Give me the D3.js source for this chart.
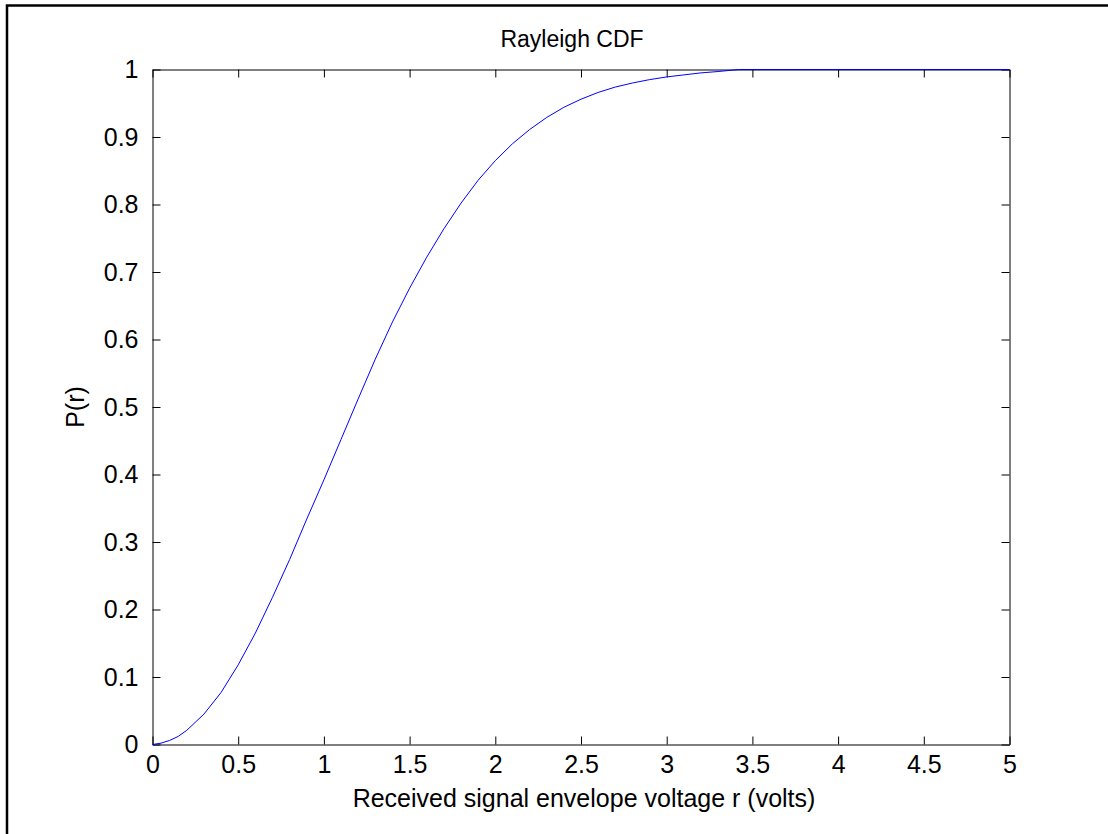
<!DOCTYPE html>
<html>
<head>
<meta charset="utf-8">
<script src="https://cdn.jsdelivr.net/npm/d3@7"></script>
<style>
  body { margin: 0; background: #fff; }
  svg text { font-family: Arial, "Liberation Sans", sans-serif; fill: #000; }
</style>
</head>
<body>
<div id="viz"></div>
<script>
var rVals = [0, 0.05, 0.1, 0.15, 0.2, 0.3, 0.4, 0.5, 0.6, 0.7, 0.8, 0.9, 1.0,
             1.1, 1.2, 1.3, 1.4, 1.5, 1.6, 1.7, 1.8, 1.9, 2.0, 2.1, 2.2, 2.3,
             2.4, 2.5, 2.6, 2.7, 2.8, 2.9, 3.0, 3.1, 3.2, 3.3, 3.42, 5];
var pVals = [0, 0.002, 0.006, 0.012, 0.021, 0.045, 0.077, 0.118, 0.165, 0.218,
             0.274, 0.334, 0.392, 0.452, 0.512, 0.571, 0.626, 0.676, 0.722,
             0.764, 0.802, 0.836, 0.865, 0.890, 0.911, 0.929, 0.944, 0.956,
             0.966, 0.974, 0.980, 0.985, 0.989, 0.992, 0.995, 0.997, 1.0, 1.0];
var xTicks = [0, 0.5, 1, 1.5, 2, 2.5, 3, 3.5, 4, 4.5, 5];
var yTicks = [0, 0.1, 0.2, 0.3, 0.4, 0.5, 0.6, 0.7, 0.8, 0.9, 1];

var width = 1108,
    height = 834,
    plotLeft = 152.5,
    plotRight = 1009.5,
    plotTop = 69.5,
    plotBottom = 744.5;

var xScale = d3.scaleLinear().domain([0, 5]).range([0, plotRight - plotLeft]);
var yScale = d3.scaleLinear().domain([0, 1]).range([plotBottom - plotTop, 0]);

var svg = d3.select('#viz').append('svg')
    .attr('width', width)
    .attr('height', height)
    .style('background', '#fff');

// outer frame (cut off at right and bottom)
svg.append('path')
    .attr('d', 'M7,834 V5.5 H1108')
    .attr('fill', 'none')
    .attr('stroke', '#000')
    .attr('stroke-width', 2.5);

var g = svg.append('g').attr('transform', 'translate(' + plotLeft + ',' + plotTop + ')');

function styleAxis(sel) {
  sel.selectAll('path, line').attr('stroke', '#000').attr('stroke-width', 1);
  sel.selectAll('text').attr('font-size', 25).attr('font-family', null);
}

g.append('g')
    .attr('transform', 'translate(0,' + (plotBottom - plotTop) + ')')
    .call(d3.axisBottom(xScale).tickValues(xTicks).tickSizeInner(-8).tickSizeOuter(0)
      .tickPadding(11).tickFormat(d3.format('')))
    .call(styleAxis);

g.append('g')
    .call(d3.axisLeft(yScale).tickValues(yTicks).tickSizeInner(-8).tickSizeOuter(0)
      .tickPadding(14).tickFormat(d3.format('')))
    .call(styleAxis);

g.append('g')
    .call(d3.axisTop(xScale).tickValues(xTicks).tickSizeInner(-8).tickSizeOuter(0)
      .tickFormat(''))
    .call(styleAxis);

g.append('g')
    .attr('transform', 'translate(' + (plotRight - plotLeft) + ',0)')
    .call(d3.axisRight(yScale).tickValues(yTicks).tickSizeInner(-8).tickSizeOuter(0)
      .tickFormat(''))
    .call(styleAxis);

var line = d3.line()
    .x(function(d, i) { return xScale(rVals[i]); })
    .y(function(d) { return yScale(d); });

g.append('path')
    .datum(pVals)
    .attr('d', line)
    .attr('fill', 'none')
    .attr('stroke', '#0000ff')
    .attr('stroke-width', 1);

svg.append('text')
    .attr('x', 572)
    .attr('y', 47)
    .attr('text-anchor', 'middle')
    .attr('font-size', 23)
    .text('Rayleigh CDF');

svg.append('text')
    .attr('x', 584)
    .attr('y', 807)
    .attr('text-anchor', 'middle')
    .attr('font-size', 25)
    .text('Received signal envelope voltage r (volts)');

svg.append('text')
    .attr('transform', 'translate(84,' + ((plotTop + plotBottom) / 2) + ') rotate(-90)')
    .attr('text-anchor', 'middle')
    .attr('font-size', 25)
    .text('P(r)');
</script>
</body>
</html>
